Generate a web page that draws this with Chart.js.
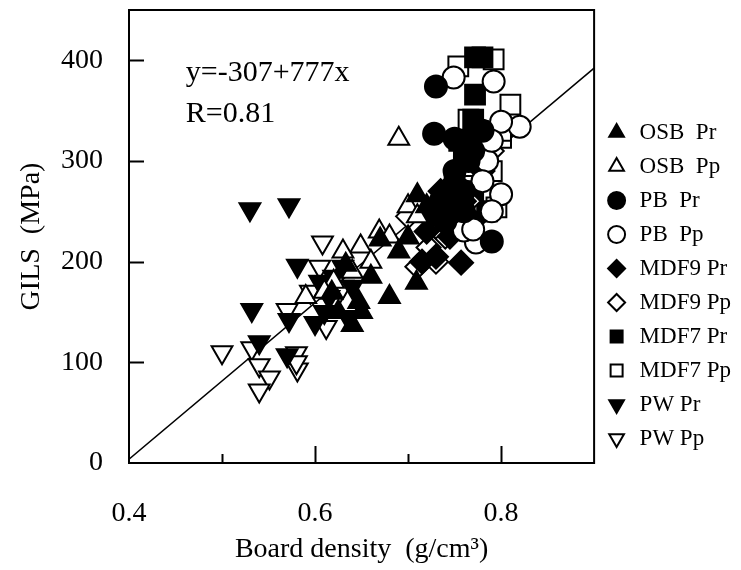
<!DOCTYPE html>
<html>
<head>
<meta charset="utf-8">
<script src="https://cdn.jsdelivr.net/npm/chart.js@4/dist/chart.umd.min.js"></script>
<style>
  html, body { margin: 0; padding: 0; background: #fff; }
  #wrap { width: 741px; height: 570px; }
</style>
</head>
<body>
<div id="wrap"><canvas id="gils"></canvas></div>
<script>
// series values, [density, GILS]
var osbPr  = [[0.64,137],[0.647,160],[0.618,169],[0.633,197],[0.67,222],[0.70,224],[0.71,266],[0.709,179],[0.68,165],[0.65,150],[0.66,185],[0.625,150],[0.72,255],[0.69,210]];
var osbPp  = [[0.69,322],[0.59,165],[0.649,215],[0.669,230],[0.70,255],[0.66,200],[0.64,190],[0.62,180],[0.63,210],[0.61,170],[0.71,245],[0.68,225]];
var pbPr   = [[0.73,374],[0.728,327],[0.75,322],[0.79,220],[0.735,260],[0.76,270],[0.75,290],[0.74,240],[0.77,310],[0.745,255],[0.765,300],[0.78,330],[0.76,250]];
var pbPp   = [[0.749,383],[0.792,379],[0.82,334],[0.80,339],[0.80,267],[0.773,219],[0.785,300],[0.79,320],[0.76,231],[0.78,280],[0.79,250],[0.77,232]];
var mdf9Pr = [[0.757,199],[0.73,205],[0.715,200],[0.72,230],[0.735,270],[0.75,280],[0.74,250],[0.76,260],[0.77,240],[0.745,225],[0.725,245],[0.78,290]];
var mdf9Pp = [[0.722,214],[0.74,225],[0.71,195],[0.73,200],[0.75,240],[0.765,260],[0.70,245],[0.775,300],[0.79,310],[0.73,235]];
var mdf7Pr = [[0.772,403],[0.78,403],[0.772,366],[0.77,341],[0.775,330],[0.76,300],[0.78,310],[0.75,280],[0.77,270],[0.74,260],[0.785,250],[0.765,240],[0.755,320]];
var mdf7Pp = [[0.754,394],[0.792,401],[0.81,356],[0.765,341],[0.80,323],[0.795,254],[0.76,295],[0.745,265],[0.79,290],[0.775,250],[0.80,330]];
var pwPr   = [[0.53,252],[0.572,256],[0.581,196],[0.532,152],[0.54,120],[0.57,107],[0.572,142],[0.60,139],[0.61,150],[0.62,185],[0.63,195],[0.615,165],[0.64,175],[0.635,145],[0.605,180]];
var pwPp   = [[0.50,110],[0.532,114],[0.54,97],[0.551,85],[0.54,72],[0.58,109],[0.581,93],[0.58,100],[0.57,152],[0.608,219],[0.605,195],[0.612,135],[0.62,160],[0.63,175],[0.595,170]];

// regression line y=-307+777x, end points
var fitLine = [[0.4,3.8],[0.9,392.3]];

var xTickLabels = ['0.4','0.6','0.8'];
var yTickLabels = ['0','100','200','300','400'];

var serif = "'Liberation Serif', 'Times New Roman', serif";
var plotTop = 10;

function pts(arr) {
  return arr.map(function (p) { return {x: p[0], y: p[1]}; });
}

function series(label, arr, style, filled, rot, r) {
  return {
    label: label,
    data: pts(arr),
    pointStyle: style,
    pointRotation: rot || 0,
    pointRadius: r,
    pointHoverRadius: r,
    pointBackgroundColor: filled ? '#000' : '#fff',
    backgroundColor: filled ? '#000' : '#fff',
    pointBorderColor: '#000',
    borderColor: '#000',
    pointBorderWidth: 2,
    borderWidth: 2,
    showLine: false
  };
}

function noEdgePadding(scale) {
  scale.paddingTop = 0;
  scale.paddingBottom = 0;
  scale.paddingLeft = 0;
  scale.paddingRight = 0;
}

// pull the plot top up to where the original frame sits
var topFix = {
  id: 'topFix',
  afterLayout: function (chart) {
    var a = chart.chartArea, ys = chart.scales.y;
    a.top = plotTop;
    a.height = a.bottom - a.top;
    ys.top = plotTop;
    ys.height = ys.bottom - ys.top;
    ys.configure();
    ys._labelItems = null;
  }
};

// frame + inward tick marks + equation text
var framePlugin = {
  id: 'frame',
  afterDraw: function (chart) {
    var ctx = chart.ctx, a = chart.chartArea;
    var xs = chart.scales.x, ys = chart.scales.y;
    ctx.save();
    ctx.strokeStyle = '#000';
    ctx.lineWidth = 2;
    ctx.strokeRect(a.left, a.top, a.right - a.left, a.bottom - a.top);
    ctx.beginPath();
    xs.ticks.forEach(function (t) {
      var px = Math.round(xs.getPixelForValue(t.value)) + 0.5;
      var major = xTickLabels.indexOf(t.value.toFixed(1)) >= 0;
      if (px <= a.left + 1 || px >= a.right - 1) return;
      ctx.moveTo(px, a.bottom);
      ctx.lineTo(px, a.bottom - (major ? 17 : 9));
    });
    ys.ticks.forEach(function (t) {
      var py = Math.round(ys.getPixelForValue(t.value)) + 0.5;
      if (py >= a.bottom - 1) return;
      ctx.moveTo(a.left, py);
      ctx.lineTo(a.left + 15, py);
    });
    ctx.stroke();
    ctx.fillStyle = '#000';
    ctx.font = '30px ' + serif;
    ctx.textBaseline = 'alphabetic';
    ctx.fillText('y=-307+777x', xs.getPixelForValue(0.461), ys.getPixelForValue(379));
    ctx.fillText('R=0.81', xs.getPixelForValue(0.461), ys.getPixelForValue(339));
    ctx.restore();
  }
};

var datasets = [
  series('OSB  Pr', osbPr, 'triangle', true, 0, 12),
  series('OSB  Pp', osbPp, 'triangle', false, 0, 12),
  series('PB  Pr', pbPr, 'circle', true, 0, 11),
  series('PB  Pp', pbPp, 'circle', false, 0, 11),
  series('MDF9 Pr', mdf9Pr, 'rectRot', true, 0, 12),
  series('MDF9 Pp', mdf9Pp, 'rectRot', false, 0, 12),
  series('MDF7 Pr', mdf7Pr, 'rect', true, 0, 14),
  series('MDF7 Pp', mdf7Pp, 'rect', false, 0, 14),
  series('PW Pr', pwPr, 'triangle', true, 180, 12),
  series('PW Pp', pwPp, 'triangle', false, 180, 12),
  {
    label: 'fit',
    data: pts(fitLine),
    showLine: true,
    borderColor: '#000',
    borderWidth: 1.5,
    pointRadius: 0,
    pointHoverRadius: 0,
    fill: false
  }
];

new Chart(document.getElementById('gils').getContext('2d'), {
  type: 'scatter',
  data: { datasets: datasets },
  options: {
    responsive: true,
    maintainAspectRatio: false,
    animation: false,
    events: [],
    layout: { padding: { top: 5, right: 0, bottom: 4, left: 13 } },
    plugins: {
      tooltip: { enabled: false },
      legend: {
        position: 'right',
        align: 'center',
        labels: {
          usePointStyle: true,
          boxWidth: 26,
          boxHeight: 12,
          padding: 11,
          color: '#000',
          font: { family: serif, size: 23, lineHeight: 1.2 },
          filter: function (item) { return item.text !== 'fit'; }
        }
      }
    },
    scales: {
      x: {
        type: 'linear',
        min: 0.4,
        max: 0.9,
        border: { display: false },
        grid: { display: false, drawTicks: true, tickLength: 34 },
        afterFit: function (scale) { scale.height = 103; noEdgePadding(scale); },
        ticks: {
          stepSize: 0.1,
          padding: 0,
          color: '#000',
          font: { family: serif, size: 28 },
          autoSkip: false,
          maxRotation: 0,
          callback: function (v) {
            var s = Number(v).toFixed(1);
            return xTickLabels.indexOf(s) >= 0 ? s : '';
          }
        },
        title: {
          display: true,
          text: 'Board density  (g/cm³)',
          color: '#000',
          font: { family: serif, size: 28 },
          padding: { top: 0, bottom: 0 }
        }
      },
      y: {
        type: 'linear',
        min: 0,
        max: 450,
        border: { display: false },
        grid: { display: false, drawTicks: true, tickLength: 26 },
        afterFit: function (scale) { scale.width = 116; noEdgePadding(scale); },
        afterBuildTicks: function (scale) {
          scale.ticks = scale.ticks.filter(function (t) {
            return yTickLabels.indexOf(String(t.value)) >= 0;
          });
        },
        ticks: {
          stepSize: 100,
          padding: 0,
          color: '#000',
          font: { family: serif, size: 28 }
        },
        title: {
          display: true,
          text: 'GILS  (MPa)',
          color: '#000',
          font: { family: serif, size: 28 },
          padding: { top: 2, bottom: 0 }
        }
      }
    }
  },
  plugins: [topFix, framePlugin]
});
</script>
</body>
</html>
